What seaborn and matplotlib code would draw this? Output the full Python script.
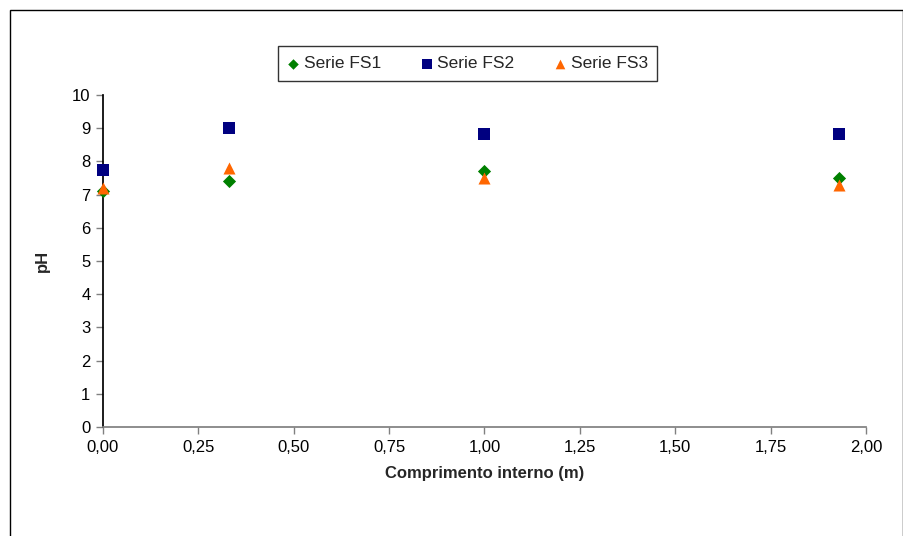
import matplotlib
matplotlib.use("Agg")
import matplotlib.pyplot as plt
import seaborn as sns
import pandas as pd
from matplotlib.patches import Rectangle

x_vals = [0.0, 0.33, 1.0, 1.93]
fs1 = [7.1, 7.4, 7.7, 7.5]
fs2 = [7.75, 9.0, 8.83, 8.83]
fs3 = [7.2, 7.8, 7.5, 7.28]
series_names = ["Serie FS1", "Serie FS2", "Serie FS3"]
x_ticks = [0, 0.25, 0.5, 0.75, 1.0, 1.25, 1.5, 1.75, 2.0]
y_ticks = list(range(0, 11))

rows = []
for name, vals in zip(series_names, [fs1, fs2, fs3]):
    for xv, yv in zip(x_vals, vals):
        rows.append({"x": xv, "y": yv, "serie": name})
df = pd.DataFrame(rows)

sns.set_theme(style="white")
plt.rcParams['font.family'] = ['Liberation Sans', 'DejaVu Sans']

fig = plt.figure(figsize=(9.04, 5.36), dpi=100)
ax = fig.add_axes([103/904, 1-427/536, (866-103)/904, (427-95)/536])

palette = {"Serie FS1": "#008000", "Serie FS2": "#000080", "Serie FS3": "#FF6600"}
markers = {"Serie FS1": "D", "Serie FS2": "s", "Serie FS3": "^"}
sizes = {"Serie FS1": 45, "Serie FS2": 70, "Serie FS3": 75}
for name in series_names:
    sub = df[df.serie == name]
    sns.scatterplot(data=sub, x="x", y="y", ax=ax, color=palette[name],
                    marker=markers[name], s=sizes[name], linewidth=0,
                    label=name, zorder=3, clip_on=False)

ax.set_xlim(0, 2.0)
ax.set_ylim(0, 10)
ax.set_xticks(x_ticks)
ax.set_xticklabels([f"{t:.2f}".replace(".", ",") for t in x_ticks], fontsize=12)
ax.set_yticks(y_ticks)
ax.set_yticklabels([str(t) for t in y_ticks], fontsize=12)
ax.set_xlabel("Comprimento interno (m)", fontsize=12, fontweight="bold", labelpad=8)
ax.set_ylabel("pH", fontsize=12, fontweight="bold", labelpad=16)

for s in ["top", "right"]:
    ax.spines[s].set_visible(False)
ax.spines["left"].set_color("black")
ax.spines["bottom"].set_color("#808080")
ax.tick_params(axis="both", direction="out", length=5, width=1, color="#808080",
               labelcolor="black", left=True, bottom=True, pad=4)
ax.grid(False)

handles, labels = ax.get_legend_handles_labels()
if ax.get_legend():
    ax.get_legend().remove()
leg = fig.legend(handles, labels, ncol=3, loc="center",
                 bbox_to_anchor=((273+662)/2/904, 1-(47+80)/2/536),
                 frameon=True, fancybox=False, edgecolor="black",
                 fontsize=12.5, handlelength=0.7, handletextpad=0.25,
                 columnspacing=2.3, borderpad=0.55, borderaxespad=0,
                 markerscale=0.8)
leg.get_frame().set_linewidth(1.0)

fig.patches.append(Rectangle((10/904, -0.1), (903-10)/904, 1.1 - 10/536,
                             transform=fig.transFigure, fill=False,
                             edgecolor="black", linewidth=1.0))

fig.savefig("out.png", dpi=100)
